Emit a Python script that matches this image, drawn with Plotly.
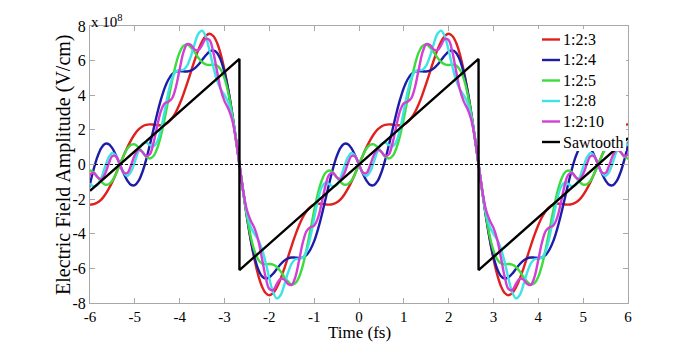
import numpy as np
import plotly.graph_objects as go

# ---- data ----
# one half period of each synthesized waveform, sampled every 1/12 fs from 0 to T/2
period_fs = 16.0 / 3.0
half_steps = 32
red_half = [0, 0.51, 0.99, 1.41, 1.76, 2.03, 2.20, 2.29, 2.32, 2.30, 2.27, 2.27, 2.32, 2.45, 2.68, 3.03,
            3.49, 4.05, 4.68, 5.35, 6.01, 6.62, 7.10, 7.43, 7.55, 7.42, 7.03, 6.37, 5.46, 4.32, 2.99, 1.53, 0]
blue_half = [0, -0.51, -0.93, -1.18, -1.19, -0.95, -0.45, 0.26, 1.12, 2.04, 2.95, 3.76, 4.43, 4.91, 5.22, 5.36,
             5.40, 5.38, 5.37, 5.42, 5.55, 5.76, 6.03, 6.31, 6.52, 6.59, 6.45, 6.04, 5.33, 4.32, 3.04, 1.57, 0]
green_half = [0, 0.51, 0.92, 1.14, 1.16, 0.99, 0.72, 0.46, 0.35, 0.49, 0.94, 1.68, 2.67, 3.77, 4.86, 5.80,
              6.48, 6.85, 6.93, 6.77, 6.49, 6.17, 5.92, 5.79, 5.75, 5.76, 5.71, 5.48, 4.97, 4.14, 2.98, 1.57, 0]
cyan_half = [0, -0.48, -0.66, -0.41, 0.16, 0.79, 1.19, 1.27, 1.13, 1.06, 1.33, 2.06, 3.11, 4.18, 4.98, 5.37,
             5.45, 5.47, 5.71, 6.25, 6.96, 7.55, 7.73, 7.37, 6.58, 5.65, 4.86, 4.35, 4.01, 3.58, 2.79, 1.55, 0]
magenta_half = [0, -0.46, -0.49, -0.04, 0.55, 0.85, 0.73, 0.49, 0.59, 1.25, 2.24, 3.10, 3.53, 3.63, 3.83, 4.48,
                5.50, 6.47, 6.95, 6.90, 6.64, 6.60, 6.90, 7.25, 7.19, 6.49, 5.39, 4.34, 3.66, 3.23, 2.63, 1.53, 0]

saw_x = [-6, -8 / 3, -8 / 3, 8 / 3, 8 / 3, 6]
saw_y = [-1.52, 6.1, -6.1, 6.1, -6.1, 1.52]
zero_x = [-6, 6]
zero_y = [0, 0]

series_names = ["1:2:3", "1:2:4", "1:2:5", "1:2:8", "1:2:10"]
series_halves = [red_half, blue_half, green_half, cyan_half, magenta_half]
series_colors = ["#e0201e", "#1c1ca8", "#3ddc3d", "#3ee4e4", "#d23ed6"]
saw_name = "Sawtooth"
saw_color = "black"

x_ticks = [-6, -5, -4, -3, -2, -1, 0, 1, 2, 3, 4, 5, 6]
y_ticks = [-8, -6, -4, -2, 0, 2, 4, 6, 8]


def full_series(half):
    """odd half period -> one period -> repeated over the visible window"""
    h = np.array(half, dtype=float)
    t = np.arange(len(h)) * (period_fs / 2) / half_steps
    per_t = np.concatenate([-t[::-1], t[1:]])
    per_y = np.concatenate([-h[::-1], h[1:]])
    xs, ys = [], []
    for i, shift in enumerate([-period_fs, 0.0, period_fs]):
        px = per_t + shift
        py = per_y
        if i > 0:
            px, py = px[1:], py[1:]
        xs.append(px)
        ys.append(py)
    return np.concatenate(xs), np.concatenate(ys)


# ---- layout geometry (pixels in the 694x342 page) ----
W, H = 694, 342
ML, MR, MT, MB = 90, 66, 26, 39
PW, PH = W - ML - MR, H - MT - MB


def pxx(px):
    return (px - ML) / PW


def pyy(py):
    return (H - MB - py) / PH


serif = "Liberation Serif"
axis_gray = "#a8a8a8"

fig = go.Figure()
for name, half, col in zip(series_names, series_halves, series_colors):
    xx, yy = full_series(half)
    fig.add_trace(go.Scatter(x=xx, y=yy, mode="lines", name=name,
                             line=dict(color=col, width=2.4, shape="spline", smoothing=1)))

fig.add_trace(go.Scatter(x=saw_x, y=saw_y, mode="lines", name=saw_name,
                         line=dict(color=saw_color, width=2.4)))
fig.add_trace(go.Scatter(x=zero_x, y=zero_y, mode="lines", showlegend=False,
                         line=dict(color="black", width=1.2, dash="3px,2px")))

fig.update_layout(
    width=W, height=H,
    margin=dict(l=ML, r=MR, t=MT, b=MB),
    paper_bgcolor="white", plot_bgcolor="white",
    font=dict(family=serif, size=16, color="black"),
    showlegend=False,
    xaxis=dict(range=[-6, 6], tickvals=x_ticks, ticktext=[str(v) for v in x_ticks],
               ticks="inside", ticklen=5, tickcolor=axis_gray, showline=True, linecolor=axis_gray,
               linewidth=1, mirror="allticks", showgrid=False, zeroline=False,
               tickfont=dict(family=serif, size=15)),
    yaxis=dict(range=[-8, 8], tickvals=y_ticks, ticktext=[str(v) for v in y_ticks],
               ticks="inside", ticklen=5, tickcolor=axis_gray, showline=True, linecolor=axis_gray,
               linewidth=1, mirror="allticks", showgrid=False, zeroline=False,
               tickfont=dict(family=serif, size=16)),
)

# axis titles
fig.add_annotation(x=0.5, y=pyy(332.5), xref="paper", yref="paper", xanchor="center", yanchor="middle",
                   text="Time (fs)", showarrow=False, borderpad=0, font=dict(family=serif, size=17))
fig.add_annotation(x=pxx(63), y=pyy(165), xref="paper", yref="paper", xanchor="center", yanchor="middle",
                   text="Electric Field Amplitude (V/cm)", textangle=-90, showarrow=False,
                   font=dict(family=serif, size=20))

# exponent label
fig.add_annotation(x=0, y=1, xref="paper", yref="paper", xanchor="left", yanchor="bottom",
                   text="x 10<sup>8</sup>", showarrow=False, xshift=-1, yshift=-6,
                   font=dict(family=serif, size=15))

# legend box (white, covers the curves beneath, like the reference)
fig.add_shape(type="rect", xref="paper", yref="paper", x0=pxx(533), x1=pxx(626), y0=pyy(151), y1=pyy(29),
              fillcolor="white", line=dict(width=0), layer="above")
leg_names = series_names + [saw_name]
leg_colors = series_colors + [saw_color]
for i, (nm, col) in enumerate(zip(leg_names, leg_colors)):
    row_py = 39.5 + 20.5 * i
    fig.add_shape(type="line", xref="paper", yref="paper", x0=pxx(542), x1=pxx(560),
                  y0=pyy(row_py), y1=pyy(row_py), line=dict(color=col, width=2.4), layer="above")
    fig.add_annotation(x=pxx(561), y=pyy(row_py), xref="paper", yref="paper", xanchor="left",
                       yanchor="middle", text=nm, showarrow=False, font=dict(family=serif, size=16))

fig.write_html("out.html")
